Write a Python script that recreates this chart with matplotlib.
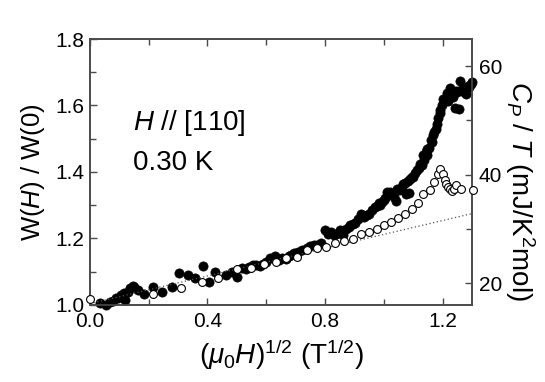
import matplotlib
matplotlib.use("Agg")
import matplotlib.pyplot as plt
from matplotlib.ticker import MultipleLocator

plt.rcParams['font.family'] = ['Liberation Sans', 'DejaVu Sans']
plt.rcParams['mathtext.fontset'] = 'custom'
plt.rcParams['mathtext.rm'] = 'Liberation Sans'
plt.rcParams['mathtext.it'] = 'Liberation Sans:italic'
plt.rcParams['mathtext.bf'] = 'Liberation Sans:bold'

# W(H)/W(0) (filled circles, left axis)
w_x = [0.034, 0.055, 0.07, 0.079, 0.088, 0.097, 0.105, 0.108, 0.115, 0.12, 0.128, 0.136,
       0.145, 0.150, 0.164, 0.185, 0.216, 0.245, 0.278, 0.303, 0.333, 0.359, 0.384, 0.405,
       0.425, 0.464, 0.482, 0.500, 0.517, 0.53, 0.541, 0.555, 0.565, 0.578, 0.589, 0.60,
       0.613, 0.630, 0.642, 0.655, 0.666, 0.676, 0.684, 0.695, 0.707, 0.72, 0.737, 0.75,
       0.761, 0.772, 0.785, 0.799, 0.81, 0.820, 0.83, 0.838, 0.850, 0.861, 0.873, 0.88,
       0.885, 0.895, 0.903, 0.912, 0.921, 0.933, 0.942, 0.951, 0.96, 0.969, 0.977, 0.983,
       0.986, 0.995, 1.000, 1.004, 1.011, 1.022, 1.034, 1.040, 1.046, 1.051, 1.062, 1.064,
       1.073, 1.076, 1.082, 1.085, 1.090, 1.096, 1.100, 1.107, 1.112, 1.119, 1.124, 1.130,
       1.134, 1.136, 1.142, 1.147, 1.148, 1.153, 1.160, 1.164, 1.169, 1.172, 1.176, 1.181,
       1.186, 1.190, 1.192, 1.197, 1.203, 1.208, 1.215, 1.22, 1.226, 1.232, 1.237, 1.243,
       1.244, 1.250, 1.255, 1.26, 1.265, 1.272, 1.279, 1.285, 1.291, 1.298, 1.301]
w_y = [1.005, 1.000, 1.008, 1.012, 1.02, 1.02, 1.03, 1.025, 1.035, 1.015, 1.04, 1.052,
       1.058, 1.054, 1.045, 1.032, 1.055, 1.040, 1.055, 1.097, 1.090, 1.080, 1.116, 1.070,
       1.098, 1.090, 1.100, 1.085, 1.110, 1.108, 1.115, 1.12, 1.120, 1.118, 1.122, 1.13,
       1.140, 1.148, 1.135, 1.14, 1.138, 1.148, 1.150, 1.155, 1.160, 1.165, 1.170, 1.178,
       1.180, 1.18, 1.185, 1.226, 1.215, 1.220, 1.21, 1.215, 1.226, 1.212, 1.228, 1.235,
       1.240, 1.245, 1.248, 1.26, 1.275, 1.266, 1.27, 1.274, 1.285, 1.294, 1.298, 1.306,
       1.302, 1.31, 1.316, 1.322, 1.341, 1.339, 1.326, 1.313, 1.349, 1.346, 1.356, 1.364,
       1.366, 1.334, 1.374, 1.336, 1.38, 1.386, 1.384, 1.396, 1.405, 1.411, 1.425, 1.421,
       1.45, 1.436, 1.46, 1.451, 1.47, 1.471, 1.495, 1.491, 1.511, 1.52, 1.53, 1.545,
       1.561, 1.576, 1.586, 1.600, 1.62, 1.62, 1.637, 1.615, 1.652, 1.635, 1.626, 1.592,
       1.645, 1.64, 1.59, 1.675, 1.65, 1.64, 1.635, 1.66, 1.655, 1.665, 1.67]

# Cp/T (open circles, right axis)
c_x = [0.0, 0.215, 0.31, 0.38, 0.436, 0.5, 0.547, 0.594, 0.632, 0.668, 0.706, 0.738,
       0.773, 0.803, 0.834, 0.864, 0.894, 0.922, 0.95, 0.977, 1.0, 1.024, 1.047, 1.071,
       1.095, 1.118, 1.135, 1.157, 1.171, 1.183, 1.19, 1.202, 1.207, 1.212, 1.219, 1.226,
       1.232, 1.238, 1.246, 1.264, 1.302]
c_y = [17.1, 17.9, 19.0, 20.2, 21.0, 22.5, 22.8, 23.6, 23.8, 24.7, 24.8, 26.1,
       26.4, 26.7, 27.4, 27.7, 28.2, 29.0, 29.4, 29.9, 30.7, 31.3, 32.0, 32.8,
       33.7, 34.8, 36.4, 37.2, 38.6, 40.1, 41.1, 40.1, 39.0, 38.3, 37.8, 37.3,
       37.0, 37.4, 38.0, 37.4, 37.2]

# dotted linear background (right axis)
fit_x = [0.0, 1.3]
fit_y = [16.2, 32.8]

x_ticks = [0.0, 0.4, 0.8, 1.2]
x_ticklabels = ['0.0', '0.4', '0.8', '1.2']
y_ticks = [1.0, 1.2, 1.4, 1.6, 1.8]
y_ticklabels = ['1.0', '1.2', '1.4', '1.6', '1.8']
y2_ticks = [20, 40, 60]

fig = plt.figure(figsize=(5.45, 3.82), dpi=100)
ax = fig.add_axes([0.165, 0.2016, 0.701, 0.6963])
ax2 = ax.twinx()

spine_c = '#4a4a4a'
for a in (ax, ax2):
    for s in a.spines.values():
        s.set_color(spine_c)
        s.set_linewidth(1.2)

ax.scatter(w_x, w_y, s=44, c='black', edgecolors='black', linewidths=0.5, zorder=3, clip_on=False)
ax2.plot(fit_x, fit_y, linestyle=(0, (1, 2)), color='#555555', linewidth=0.9, zorder=1)
ax2.scatter(c_x, c_y, s=32, facecolors='white', edgecolors='black', linewidths=0.8, zorder=3, clip_on=False)

ax.set_xlim(0.0, 1.3)
ax.set_ylim(1.0, 1.8)
ax2.set_ylim(15.95, 65.0)

ax.set_xticks(x_ticks)
ax.set_xticklabels(x_ticklabels)
ax.set_yticks(y_ticks)
ax.set_yticklabels(y_ticklabels)
ax.xaxis.set_minor_locator(MultipleLocator(0.2))
ax.yaxis.set_minor_locator(MultipleLocator(0.1))
ax2.set_yticks(y2_ticks)
ax2.yaxis.set_minor_locator(MultipleLocator(10))

ax.tick_params(which='both', direction='in', top=True, right=False, color=spine_c, width=1.0,
               labelsize=15)
ax.tick_params(which='major', length=5)
ax.tick_params(which='minor', length=4)
ax.tick_params(axis='x', pad=5)
ax.tick_params(axis='y', pad=4)
ax2.tick_params(which='both', direction='in', color=spine_c, width=1.0, labelsize=15, pad=5)
ax2.tick_params(which='major', length=5)
ax2.tick_params(which='minor', length=4)

ax.set_xlabel(r'($\mu_0H$)$^{1/2}$ (T$^{1/2}$)', fontsize=20, labelpad=5)
ax.set_ylabel(r'W($H$) / W(0)', fontsize=18.5, labelpad=6)
ax2.set_ylabel(r'$C_P$ / $T$ (mJ/K$^2$mol)', fontsize=20, rotation=270)
ax2.yaxis.label.set_ha('center')
ax2.yaxis.label.set_va('center')
ax2.yaxis.set_label_coords(1.125, 0.43)

ax.text(0.146, 1.526, r'$H$ // [110]', fontsize=20, ha='left', va='baseline')
ax.text(0.146, 1.406, '0.30 K', fontsize=20, ha='left', va='baseline')

ax.set_zorder(ax2.get_zorder() - 1)
ax.patch.set_visible(True)
ax2.patch.set_visible(False)

fig.savefig('out.png', dpi=100)
